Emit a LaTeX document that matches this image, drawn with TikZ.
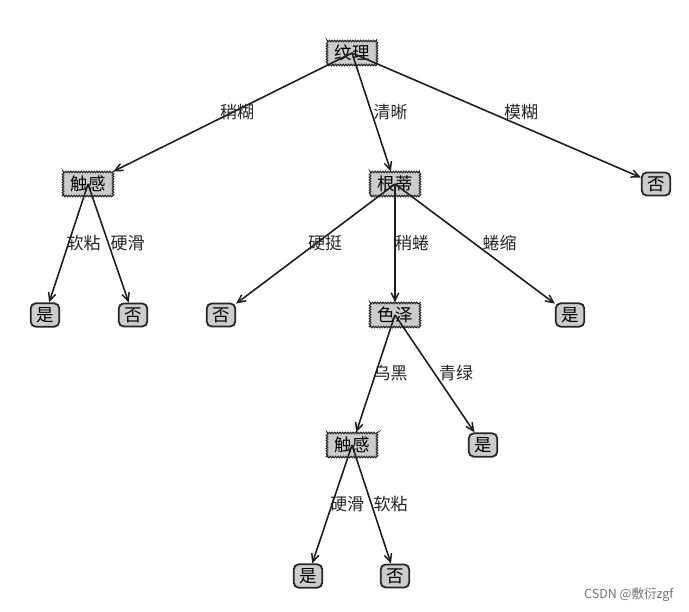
\documentclass[tikz,border=0pt]{standalone}
\usepackage{fontspec}
\setmainfont{Noto Sans CJK SC}
\usetikzlibrary{arrows.meta,decorations.pathmorphing}
\tikzset{
  decision/.style={draw=black!85, fill=black!20, line width=1pt, inner xsep=7.5pt, inner ysep=4pt,
    decorate, decoration={zigzag, segment length=2.6pt, amplitude=0.8pt},
    font=\fontsize{17.5}{19}\selectfont},
  leaf/.style={draw=black!85, fill=black!20, line width=1.8pt, rounded corners=5pt, inner xsep=5.5pt, inner ysep=4pt,
    font=\fontsize{17.5}{19}\selectfont},
  edge/.style={draw=black!88, line width=1.6pt, -{Straight Barb[length=8pt,width=7.5pt,line width=1.5pt]}},
  elabel/.style={anchor=base west, inner sep=0pt, font=\fontsize{17}{19}\selectfont, text=black!85},
}
\begin{document}
\begin{tikzpicture}[x=1pt,y=-1pt]
\useasboundingbox (0,0) rectangle (689,612);
\fill[white] (0,0) rectangle (689,612);
% nodes
\node[decision] (r) at (352,53) {纹理};
\node[decision] (a) at (88,184) {触感};
\node[decision] (b) at (395,184) {根蒂};
\node[leaf] (c) at (656,184) {否};
\node[leaf] (a1) at (45,315) {是};
\node[leaf] (a2) at (133,315) {否};
\node[leaf] (b1) at (221,315) {否};
\node[decision] (b2) at (395,315) {色泽};
\node[leaf] (b3) at (570,315) {是};
\node[decision] (d) at (352,445) {触感};
\node[leaf] (e) at (483,445) {是};
\node[leaf] (d1) at (308,576) {是};
\node[leaf] (d2) at (395,576) {否};
% edges
\foreach \p/\q/\t in {r/a/稍糊, r/b/清晰, r/c/模糊, a/a1/软粘, a/a2/硬滑, b/b1/硬挺, b/b2/稍蜷, b/b3/蜷缩, b2/d/乌黑, b2/e/青绿, d/d1/硬滑, d/d2/软粘}{
  \draw[edge] (\p.center) -- (\q);
  \path (\p.center) -- (\q.center) node[elabel, pos=0.5] {\t};
}
\node[anchor=east, font=\fontsize{12.5}{14}\selectfont, text=black!55] (wm) at (677,595) {CSDN @敷衍zgf};
\end{tikzpicture}
\end{document}
